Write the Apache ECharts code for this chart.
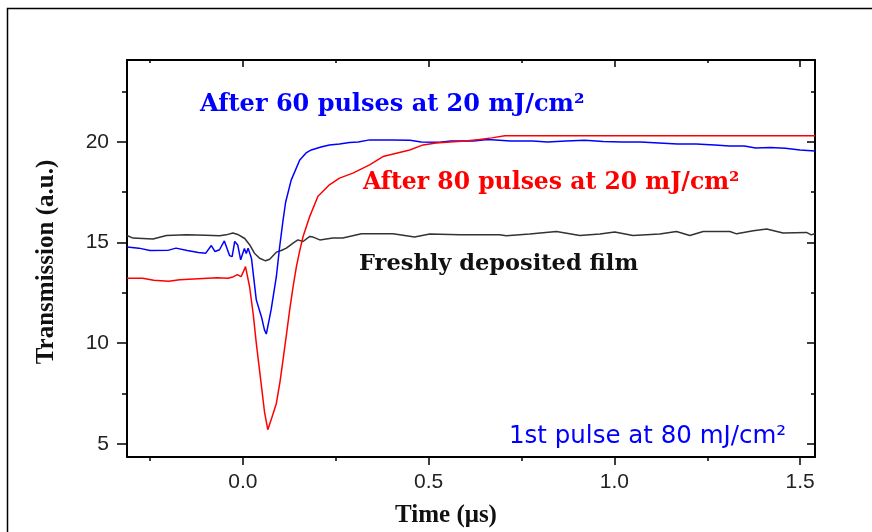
<!DOCTYPE html>
<html>
<head>
<meta charset="utf-8">
<script src="https://cdn.jsdelivr.net/npm/echarts@6/dist/echarts.min.js"></script>
<style>
  html, body { margin: 0; padding: 0; background: #fff; }
  #main { width: 872px; height: 532px; }
</style>
</head>
<body>
<div id="main"></div>
<script>
// time in microseconds, transmission in a.u.
let freshFilm = [
  [-0.312, 15.35], [-0.296, 15.22], [-0.27, 15.2], [-0.242, 15.17], [-0.206, 15.35],
  [-0.152, 15.38], [-0.1, 15.36], [-0.063, 15.33], [-0.045, 15.38], [-0.027, 15.47],
  [-0.014, 15.4], [0.005, 15.2], [0.018, 14.89], [0.031, 14.47], [0.045, 14.22],
  [0.061, 14.09], [0.072, 14.17], [0.09, 14.52], [0.103, 14.6], [0.117, 14.72],
  [0.135, 14.97], [0.148, 15.13], [0.162, 15.05], [0.18, 15.3], [0.189, 15.27],
  [0.207, 15.13], [0.242, 15.22], [0.269, 15.22], [0.319, 15.43], [0.404, 15.43],
  [0.462, 15.27], [0.503, 15.42], [0.584, 15.38], [0.691, 15.38], [0.709, 15.33],
  [0.772, 15.42], [0.844, 15.55], [0.907, 15.35], [0.961, 15.42], [1.001, 15.52],
  [1.05, 15.35], [1.122, 15.42], [1.167, 15.55], [1.203, 15.35], [1.239, 15.55],
  [1.311, 15.55], [1.329, 15.43], [1.374, 15.58], [1.41, 15.67], [1.454, 15.47],
  [1.517, 15.5], [1.53, 15.38], [1.54, 15.45]
]

let pulses60 = [
  [-0.312, 14.78], [-0.28, 14.72], [-0.25, 14.6], [-0.2, 14.62], [-0.18, 14.72],
  [-0.15, 14.6], [-0.12, 14.5], [-0.1, 14.47], [-0.085, 14.85], [-0.075, 14.55],
  [-0.063, 14.64], [-0.05, 15.08], [-0.036, 14.35], [-0.029, 14.3], [-0.022, 15.05],
  [-0.014, 14.88], [-0.006, 14.14], [0.004, 14.7], [0.009, 14.45], [0.014, 14.72],
  [0.023, 14.22], [0.036, 12.15], [0.05, 11.3], [0.058, 10.66], [0.063, 10.45],
  [0.076, 11.66], [0.09, 13.3], [0.099, 14.8], [0.108, 16.1], [0.115, 17.0],
  [0.13, 18.1], [0.153, 19.1], [0.17, 19.45], [0.184, 19.6], [0.21, 19.75],
  [0.233, 19.85], [0.26, 19.9], [0.287, 19.97], [0.31, 20.0], [0.341, 20.1],
  [0.4, 20.1], [0.45, 20.08], [0.48, 20.0], [0.53, 19.98], [0.56, 20.05],
  [0.62, 20.05], [0.66, 20.12], [0.72, 20.05], [0.78, 20.05], [0.82, 20.0],
  [0.87, 20.05], [0.92, 20.08], [0.97, 20.02], [1.02, 20.0], [1.07, 20.0],
  [1.12, 19.95], [1.17, 19.9], [1.22, 19.9], [1.27, 19.85], [1.31, 19.8],
  [1.35, 19.8], [1.38, 19.7], [1.42, 19.72], [1.46, 19.68], [1.5, 19.6],
  [1.54, 19.55]
]

let pulses80 = [
  [-0.312, 13.22], [-0.27, 13.22], [-0.24, 13.12], [-0.2, 13.08], [-0.17, 13.15],
  [-0.12, 13.2], [-0.07, 13.25], [-0.04, 13.22], [-0.025, 13.3], [-0.015, 13.4],
  [-0.005, 13.3], [0.0, 13.5], [0.007, 13.8], [0.018, 12.8], [0.028, 11.4],
  [0.036, 10.0], [0.05, 7.85], [0.058, 6.6], [0.067, 5.7], [0.078, 6.3],
  [0.09, 7.0], [0.1, 8.1], [0.108, 9.17], [0.117, 10.4], [0.126, 11.66],
  [0.135, 12.8], [0.144, 13.8], [0.153, 14.6], [0.162, 15.3], [0.18, 16.3],
  [0.202, 17.3], [0.233, 17.87], [0.26, 18.2], [0.296, 18.45], [0.341, 18.86],
  [0.377, 19.27], [0.413, 19.44], [0.449, 19.6], [0.485, 19.85], [0.52, 19.95],
  [0.557, 20.0], [0.6, 20.05], [0.637, 20.12], [0.67, 20.2], [0.705, 20.3],
  [1.0, 20.3], [1.54, 20.3]
]

let xMajor = [0, 0.5, 1.0, 1.5]
let xMinor = [-0.25, 0.25, 0.75, 1.25]
let yMajor = [5, 10, 15, 20]
let yMinor = [7.5, 12.5, 17.5, 22.5]

let xMin = -0.312, xMax = 1.54
let yMin = 4.34, yMax = 24.07

let mychart = echarts.init(document.getElementById('main'))

let tickStyle = { color: '#000', width: 1.5 }
let lineStyleAxis = { color: '#000', width: 2 }
let labelFont = { color: '#222', fontSize: 21, fontFamily: 'Liberation Sans' }

function makeAxis(type, position, ticks, len, inside, withLine, withLabels, margin) {
  let ax = {
    type: 'value',
    position: position,
    min: type === 'x' ? xMin : yMin,
    max: type === 'x' ? xMax : yMax,
    splitLine: { show: false },
    axisLine: { show: withLine, onZero: false, lineStyle: lineStyleAxis },
    axisTick: { show: true, inside: inside, length: len, customValues: ticks, lineStyle: tickStyle },
    axisLabel: { show: false }
  }
  if (withLabels) {
    ax.axisLabel = Object.assign({
      show: true,
      customValues: ticks,
      margin: margin,
      formatter: function (v) { return type === 'x' ? v.toFixed(1) : String(v) }
    }, labelFont)
  }
  return ax
}

let option = {
  animation: false,
  backgroundColor: '#fff',
  grid: { left: 127, right: 57, top: 60, bottom: 75 },
  xAxis: [
    makeAxis('x', 'bottom', xMajor, 8, false, true, true, 15),
    makeAxis('x', 'bottom', xMinor, 4, false, false, false),
    makeAxis('x', 'top', xMajor, 7, true, true, false),
    makeAxis('x', 'top', xMinor, 3, true, false, false)
  ],
  yAxis: [
    makeAxis('y', 'left', yMajor, 10, false, true, true, 18),
    makeAxis('y', 'left', yMinor, 5, false, false, false),
    makeAxis('y', 'right', yMajor, 8, true, true, false),
    makeAxis('y', 'right', yMinor, 4, true, false, false)
  ],
  series: [
    {
      name: 'Freshly deposited film',
      type: 'line',
      data: freshFilm,
      showSymbol: false,
      lineStyle: { color: '#333', width: 1.5 }
    },
    {
      name: 'After 60 pulses',
      type: 'line',
      data: pulses60,
      showSymbol: false,
      lineStyle: { color: '#0000ff', width: 1.5 }
    },
    {
      name: 'After 80 pulses',
      type: 'line',
      data: pulses80,
      showSymbol: false,
      lineStyle: { color: '#ff0000', width: 1.5 }
    }
  ],
  graphic: [
    {
      type: 'rect',
      shape: { x: 7.5, y: 8.5, width: 900, height: 600 },
      style: { fill: 'none', stroke: '#000', lineWidth: 1.5 },
      silent: true
    },
    {
      type: 'text', x: 200, y: 105,
      style: { text: 'After 60 pulses at 20 mJ/cm²', fill: '#0000ff', font: 'bold 24px "DejaVu Serif"', verticalAlign: 'middle' }
    },
    {
      type: 'text', x: 363, y: 183,
      style: { text: 'After 80 pulses at 20 mJ/cm²', fill: '#ff0000', font: 'bold 23.5px "DejaVu Serif"', verticalAlign: 'middle' }
    },
    {
      type: 'text', x: 359, y: 264,
      style: { text: 'Freshly deposited film', fill: '#111', font: 'bold 22.5px "DejaVu Serif"', verticalAlign: 'middle' }
    },
    {
      type: 'text', x: 509, y: 437,
      style: { text: '1st pulse at 80 mJ/cm²', fill: '#0000ff', font: '24.5px "DejaVu Sans"', verticalAlign: 'middle' }
    },
    {
      type: 'text', x: 446, y: 516,
      style: { text: 'Time (μs)', fill: '#111', font: 'bold 25px "Liberation Serif"', align: 'center', verticalAlign: 'middle' }
    },
    {
      type: 'text', x: 47, y: 262, rotation: Math.PI / 2,
      style: { text: 'Transmission (a.u.)', fill: '#111', font: 'bold 25px "Liberation Serif"', align: 'center', verticalAlign: 'middle' }
    }
  ]
}

mychart.setOption(option)
</script>
</body>
</html>
